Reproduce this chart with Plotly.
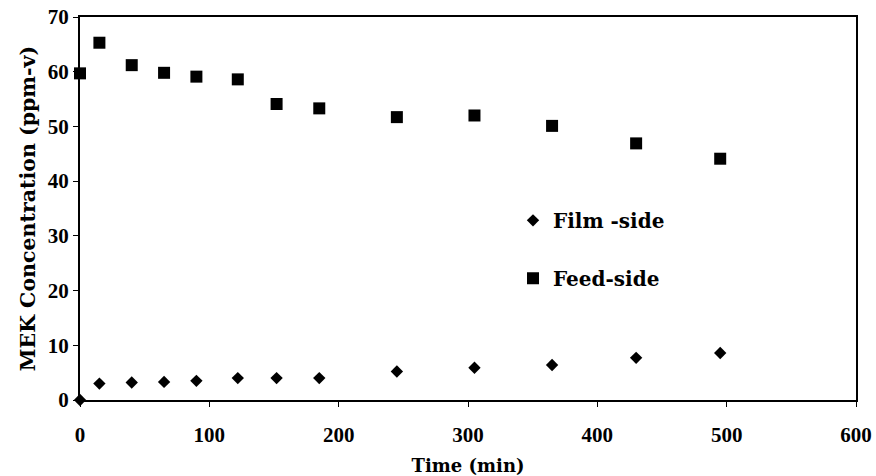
import plotly.graph_objects as go

time_min = [0, 15, 40, 65, 90, 122, 152, 185, 245, 305, 365, 430, 495]
film_side = [0, 3.0, 3.2, 3.3, 3.5, 4.0, 4.0, 4.0, 5.2, 5.9, 6.4, 7.7, 8.6]
feed_side = [59.7, 65.3, 61.2, 59.8, 59.1, 58.6, 54.1, 53.3, 51.7, 52.0, 50.1, 46.9, 44.1]

FONT = "DejaVu Serif"
TICKFONT = "Liberation Serif"

fig = go.Figure()
fig.add_trace(go.Scatter(
    x=time_min, y=film_side, mode="markers", name="Film -side",
    legendgroup="a",
    marker=dict(symbol="diamond", size=9.5, color="black"),
    cliponaxis=False,
))
fig.add_trace(go.Scatter(
    x=time_min, y=feed_side, mode="markers", name="Feed-side",
    legendgroup="b",
    marker=dict(symbol="square", size=12, color="black"),
    cliponaxis=False,
))

fig.update_layout(
    width=876, height=476,
    margin=dict(l=80, r=20, t=17, b=76),
    paper_bgcolor="white", plot_bgcolor="white",
    font=dict(family=FONT, size=19, color="black"),
    showlegend=True,
    legend=dict(
        x=0.558, y=0.52, xanchor="left", yanchor="top",
        bgcolor="rgba(0,0,0,0)",
        font=dict(family=FONT, size=20, color="black", weight="bold"),
        traceorder="grouped", tracegroupgap=29,
        itemwidth=30,
    ),
    xaxis=dict(
        range=[0, 600], tickvals=[0, 100, 200, 300, 400, 500, 600],
        showgrid=False, zeroline=False, automargin=False,
        showline=True, linecolor="black", linewidth=2, mirror=True,
        ticks="outside", ticklen=5, tickcolor="black", tickwidth=1,
        ticklabelstandoff=10, ticklabeloverflow="allow",
        tickfont=dict(family=TICKFONT, size=21, weight="bold"),
        title=dict(text="Time (min)", standoff=13,
                   font=dict(family=FONT, size=18, weight="bold")),
    ),
    yaxis=dict(
        range=[0, 70], tickvals=[0, 10, 20, 30, 40, 50, 60, 70],
        showgrid=False, zeroline=False, automargin=False,
        showline=True, linecolor="black", linewidth=2, mirror=True,
        ticks="outside", ticklen=5, tickcolor="black", tickwidth=1,
        ticklabeloverflow="allow",
        tickfont=dict(family=TICKFONT, size=21, weight="bold"),
        title=dict(text="MEK Concentration (ppm-v)", standoff=7,
                   font=dict(family=FONT, size=20.5, weight="bold")),
    ),
)

fig.write_html("out.html", config={"displayModeBar": False},
               post_script="document.body.style.margin='0';")
